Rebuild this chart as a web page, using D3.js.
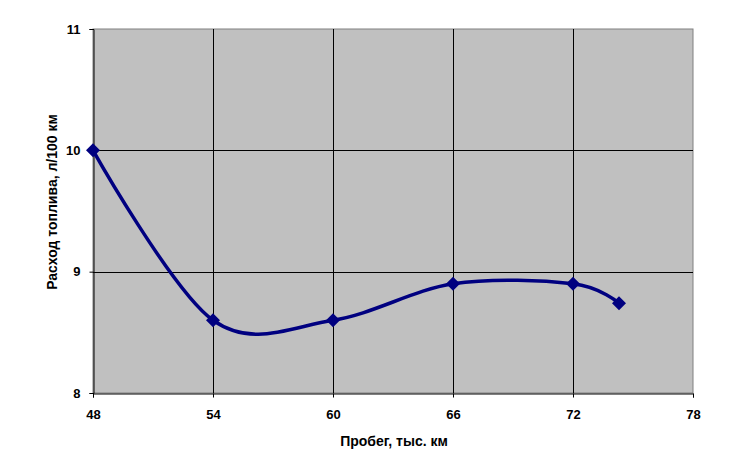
<!DOCTYPE html>
<html><head><meta charset="utf-8">
<script src="https://cdn.jsdelivr.net/npm/d3@7"></script>
<style>body{margin:0;background:#fff}svg{display:block}text{font-family:"Liberation Sans",Arial,sans-serif;font-weight:bold}</style>
</head><body><svg id="c" width="740" height="458"></svg>
<script>
const mileage = [48, 54, 60, 66, 72, 74.3];
const consumption = [10, 8.6, 8.6, 8.9, 8.9, 8.74];
const xTicks = [48, 54, 60, 66, 72, 78];
const yTicks = [8, 9, 10, 11];
const xTitle = "Пробег, тыс. км";
const yTitle = "Расход топлива, л/100 км";

const svg = d3.select("#c");
const L = 93, R = 693, T = 29, B = 393;
const x = d3.scaleLinear().domain([48, 78]).range([L, R]);
const y = d3.scaleLinear().domain([8, 11]).range([B, T]);

svg.append("rect").attr("x", L).attr("y", T).attr("width", R - L).attr("height", B - T)
  .attr("fill", "#c0c0c0").attr("stroke", "#808080").attr("stroke-width", 1);

const g = svg.append("g").attr("shape-rendering", "crispEdges");
g.selectAll(".vg").data(xTicks.slice(1, -1)).join("line")
  .attr("x1", d => Math.round(x(d)) + 0.5).attr("x2", d => Math.round(x(d)) + 0.5)
  .attr("y1", T).attr("y2", B).attr("stroke", "#000");
g.selectAll(".hg").data(yTicks.slice(1, -1)).join("line")
  .attr("y1", d => Math.round(y(d)) + 0.5).attr("y2", d => Math.round(y(d)) + 0.5)
  .attr("x1", L).attr("x2", R).attr("stroke", "#000");

const xa = d3.axisBottom(x).tickValues(xTicks).tickSize(4).tickPadding(12).tickFormat(d3.format("d"));
const ya = d3.axisLeft(y).tickValues(yTicks).tickSize(4).tickPadding(9).tickFormat(d3.format("d"));
const gx = svg.append("g").attr("transform", `translate(0,${B + 0.5})`).call(xa);
const gy = svg.append("g").attr("transform", `translate(${L + 0.5},0)`).call(ya);
[gx, gy].forEach(a => {
  a.select(".domain").attr("stroke", "#000");
  a.selectAll(".tick line").attr("stroke", "#000");
  a.selectAll("text").attr("font-size", 13).attr("fill", "#000")
    .attr("font-family", "'Liberation Sans',Arial,sans-serif").attr("font-weight", "bold");
});
gx.selectAll("text").attr("dy", "0.71em");

const pts = mileage.map((m, i) => [x(m), y(consumption[i])]);
svg.append("path").attr("d", d3.line().curve(d3.curveCardinal.tension(0))(pts))
  .attr("fill", "none").attr("stroke", "#000080").attr("stroke-width", 3.5);
svg.selectAll(".mk").data(pts).join("path")
  .attr("transform", d => `translate(${d[0]},${d[1]})`)
  .attr("d", "M0,-7L7,0L0,7L-7,0Z").attr("fill", "#000080");

svg.append("text").attr("x", 394).attr("y", 446).attr("text-anchor", "middle")
  .attr("font-size", 14).text(xTitle);
svg.append("text").attr("transform", `translate(57,202) rotate(-90)`)
  .attr("text-anchor", "middle").attr("font-size", 14).text(yTitle);
</script></body></html>
